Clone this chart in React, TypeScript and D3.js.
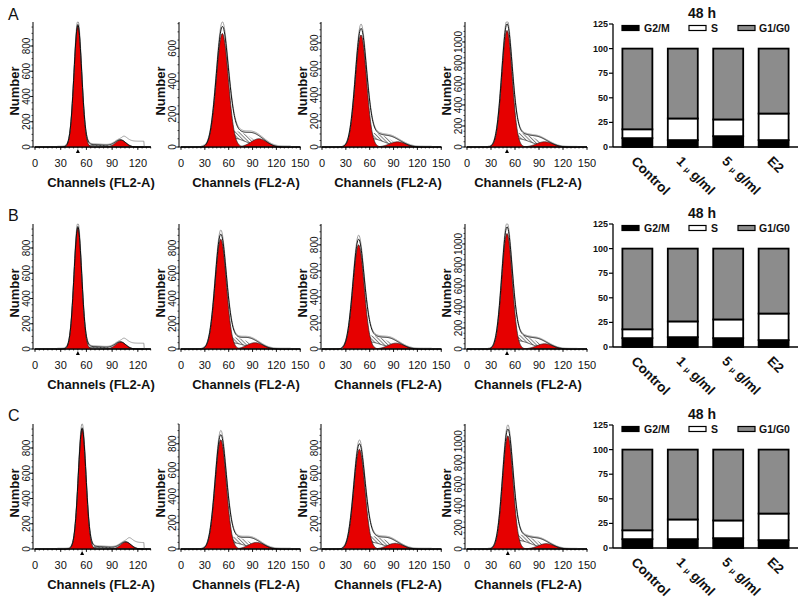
import React from "react";
import * as d3 from "d3";

// ---------- Panel labels ----------
const rowLabels = ["A", "B", "C"];

// ---------- Histogram data (row-major: A1..A4, B1..B4, C1..C4) ----------
const histXMax = [135, 150, 150, 150];
const histXTicks = [
  [0, 30, 60, 90, 120],
  [0, 30, 60, 90, 120, 150],
  [0, 30, 60, 90, 120, 150],
  [0, 30, 60, 90, 120, 150],
];
const histYMax = [990, 760, 960, 1190, 990, 990, 960, 1190, 990, 950, 990, 1160];
const g1Mean = [50, 52, 49, 50, 50, 50, 46, 50, 55, 50, 47, 51];
const g1Height = [960, 690, 860, 1110, 960, 870, 800, 1100, 950, 830, 790, 1050];
const g1Sd = [4.5, 7.5, 7, 6.5, 4.5, 7, 7, 6.5, 4.5, 7, 7, 6.5];
const g2Mean = [100, 98, 95, 97, 100, 93, 93, 97, 106, 95, 92, 99];
const g2Height = [55, 50, 40, 50, 55, 50, 45, 50, 55, 50, 45, 50];
const g2Sd = [6, 10, 10, 10, 6, 10, 10, 10, 6, 10, 10, 10];
const debrisHeight = [12, 55, 65, 80, 12, 50, 55, 80, 12, 50, 55, 80];
const sPhaseLevel = [8, 45, 45, 55, 8, 45, 50, 55, 8, 45, 50, 55];
const tailLevel = [40, 0, 0, 0, 40, 0, 0, 0, 45, 0, 0, 0];
const histYLabel = "Number";
const histXLabel = "Channels (FL2-A)";

// ---------- Bar chart data ----------
const barTitle = "48 h";
const categories = ["Control", "1 μ g/ml", "5 μ g/ml", "E2"];
const phaseKeys = ["G2/M", "S", "G1/G0"];
const g2mValues = [
  [9, 7, 11, 7],
  [9, 10, 9, 7],
  [9, 9, 10, 8],
];
const sValues = [
  [9, 22, 17, 27],
  [9, 16, 19, 27],
  [9, 20, 18, 27],
];
const g1Values = [
  [82, 71, 72, 66],
  [82, 74, 72, 66],
  [82, 71, 72, 65],
];
const barYTicks = [0, 25, 50, 75, 100, 125];

// ---------- Layout ----------
const FONT = "'Liberation Sans', Arial, Helvetica, sans-serif";
const rowZero = [147, 349, 549];
const barZero = [147, 347, 548];
const rowLabelY = [20, 221, 421];
const histAxisX = [33, 179, 321, 465];
const histX0 = [35, 181, 322, 467];
const histPx = [0.857, 0.795, 0.795, 0.8];
const channelLabelX = [101, 246, 388, 528];
const HIST_H = 125;
const RED = "#e60000";
const phaseColors = ["#000000", "#ffffff", "#8c8c8c"];

function erf(v: number) {
  const s = Math.sign(v);
  const a = Math.abs(v);
  const t = 1 / (1 + 0.3275911 * a);
  const yv =
    1 -
    ((((1.061405429 * t - 1.453152027) * t + 1.421413741) * t - 0.284496736) * t + 0.254829592) *
      t *
      Math.exp(-a * a);
  return s * yv;
}
const Phi = (z: number) => 0.5 * (1 + erf(z / Math.SQRT2));

function Histogram({ row, col }: { row: number; col: number }) {
  const i = row * 4 + col;
  const zero = rowZero[row];
  const ax = histAxisX[col];
  const x0 = histX0[col];
  const xMax = histXMax[col];
  const x = d3.scaleLinear().domain([0, xMax]).range([x0, x0 + xMax * histPx[col]]);
  const yMax = histYMax[i];
  const y = d3.scaleLinear().domain([0, yMax]).range([zero, zero - HIST_H]).clamp(true);

  const m1 = g1Mean[i], h1 = g1Height[i], s1 = g1Sd[i];
  const m2 = g2Mean[i], h2 = g2Height[i], s2 = g2Sd[i];
  const G1 = (c: number) => h1 * Math.exp(-0.5 * ((c - m1) / s1) ** 2);
  const G2 = (c: number) => h2 * Math.exp(-0.5 * ((c - m2) / s2) ** 2);
  const D = (c: number) =>
    debrisHeight[i] * Math.exp(-0.5 * ((c - (m1 + 12)) / 17) ** 2) * Phi((c - (m1 - 16)) / 3);
  const S = (c: number) =>
    sPhaseLevel[i] * Phi((c - (m1 + 1.2 * s1)) / 3) * (1 - Phi((c - (m2 - 4)) / (0.6 * s2)));
  const T = (c: number) => G1(c) + G2(c) + D(c) + S(c);
  const dataEnd = col === 0 ? 127 : 138;
  const R = (c: number) =>
    c > dataEnd
      ? 0
      : 1.03 * T(c) + 6 + tailLevel[i] * Phi((c - (m2 + 2)) / 2);
  const Rc = (c: number) => (c < 26 ? 0 : R(c));

  const chans = d3.range(0, xMax + 0.001, 0.5);
  const hatch = d3
    .area<number>()
    .x((c) => x(c))
    .y0((c) => y(D(c)))
    .y1((c) => y(D(c) + S(c)))(chans);
  const g1Path = d3
    .area<number>()
    .x((c) => x(c))
    .y0(zero)
    .y1((c) => y(G1(c)))(chans);
  const g2Path = d3
    .area<number>()
    .x((c) => x(c))
    .y0(zero)
    .y1((c) => y(G2(c)))(chans);
  const line = (f: (c: number) => number) =>
    d3
      .line<number>()
      .x((c) => x(c))
      .y((c) => y(f(c)))(chans);

  const yMajor = d3.range(0, yMax + 1, 200).filter((v) => v <= yMax);
  const yMinor = d3.range(0, yMax + 1, 50);
  const xMinor = d3.range(0, xMax + 0.01, 5);
  const showMarker = col === 0 || col === 3;

  return (
    <g>
      <path d={hatch || ""} fill="url(#hatch)" stroke="none" />
      <path d={line(D) || ""} fill="none" stroke="#111" strokeWidth={0.7} />
      <path d={g2Path || ""} fill={RED} stroke="#222" strokeWidth={0.7} />
      <path d={g1Path || ""} fill={RED} stroke="#222" strokeWidth={0.7} />
      <path d={line(Rc) || ""} fill="none" stroke="#888" strokeWidth={0.8} />
      <path d={line(T) || ""} fill="none" stroke="#000" strokeWidth={0.9} />
      {/* axes */}
      <line x1={ax} x2={ax} y1={zero} y2={zero - HIST_H} stroke="#000" strokeWidth={1} />
      <line x1={ax} x2={x(xMax)} y1={zero} y2={zero} stroke="#000" strokeWidth={1} />
      {yMinor.map((v) => (
        <line key={"ym" + v} x1={ax - 1.5} x2={ax} y1={y(v)} y2={y(v)} stroke="#000" strokeWidth={0.7} />
      ))}
      {yMajor.map((v) => (
        <g key={"yM" + v}>
          <line x1={ax - 3} x2={ax} y1={y(v)} y2={y(v)} stroke="#000" strokeWidth={0.8} />
          <text
            transform={`translate(${ax - 3},${y(v)}) rotate(-90)`}
            textAnchor="middle"
            fontSize={10}
            fill="#111"
          >
            {v}
          </text>
        </g>
      ))}
      {xMinor.map((v) => (
        <line key={"xm" + v} x1={x(v)} x2={x(v)} y1={zero} y2={zero + 1.5} stroke="#000" strokeWidth={0.7} />
      ))}
      {histXTicks[col].map((v) => (
        <g key={"xM" + v}>
          <line x1={x(v)} x2={x(v)} y1={zero} y2={zero + 3} stroke="#000" strokeWidth={0.8} />
          <text x={x(v)} y={zero + 20} textAnchor="middle" fontSize={11} fill="#111">
            {v}
          </text>
        </g>
      ))}
      {showMarker && (
        <path
          d={`M${x(m1) - 2},${zero + 6}L${x(m1) + 2},${zero + 6}L${x(m1)},${zero + 2}Z`}
          fill="#000"
        />
      )}
      <text
        transform={`translate(${ax - 14},${zero - 56}) rotate(-90)`}
        textAnchor="middle"
        fontSize={13}
        fontWeight="bold"
        fill="#111"
      >
        {histYLabel}
      </text>
      <text x={channelLabelX[col]} y={zero + 40} textAnchor="middle" fontSize={13} fontWeight="bold" fill="#111">
        {histXLabel}
      </text>
    </g>
  );
}

function BarChart({ row }: { row: number }) {
  const zero = barZero[row];
  const x = d3.scaleBand<string>().domain(categories).range([615, 796]).paddingInner(0.34).paddingOuter(0.163);
  const y = d3.scaleLinear().domain([0, 125]).range([zero, zero - 123]);
  const table = categories.map((c, k) => ({
    cat: c,
    "G2/M": g2mValues[row][k],
    S: sValues[row][k],
    "G1/G0": g1Values[row][k],
  }));
  const series = d3.stack<any>().keys(phaseKeys)(table);
  const axX = 613;
  const legendY = zero - 119;
  const legendX = [622, 689, 738];
  const legendTextX = [644, 711, 759];

  return (
    <g>
      <text x={702} y={zero - 129} textAnchor="middle" fontSize={14} fontWeight="bold" fill="#111">
        {barTitle}
      </text>
      {series.map((s, si) =>
        s.map((d: any, k: number) => (
          <rect
            key={si + "-" + k}
            x={x(categories[k])}
            width={x.bandwidth()}
            y={y(d[1])}
            height={y(d[0]) - y(d[1])}
            fill={phaseColors[si]}
            stroke="#000"
            strokeWidth={1.8}
          />
        ))
      )}
      {/* axes */}
      <line x1={axX} x2={axX} y1={zero} y2={y(125)} stroke="#000" strokeWidth={1.3} />
      <line x1={axX} x2={798} y1={zero} y2={zero} stroke="#000" strokeWidth={1.3} />
      {barYTicks.map((v) => (
        <g key={v}>
          <line x1={axX - 4} x2={axX} y1={y(v)} y2={y(v)} stroke="#000" strokeWidth={1.2} />
          <text x={axX - 5} y={y(v) + 3} textAnchor="end" fontSize={9} fontWeight="bold" fill="#111">
            {v}
          </text>
        </g>
      ))}
      {categories.map((c) => {
        const cx = (x(c) || 0) + x.bandwidth() / 2;
        const parts = c.split("μ");
        return (
          <text
            key={c}
            transform={`translate(${cx - 7},${zero + 15}) rotate(45)`}
            fontSize={13.5}
            fontWeight="bold"
            fill="#111"
          >
            {parts.length > 1 ? (
              <>
                {parts[0]}
                <tspan fontSize={8}>μ</tspan>
                {parts[1]}
              </>
            ) : (
              c
            )}
          </text>
        );
      })}
      {/* legend */}
      {phaseKeys.map((k, j) => (
        <g key={k}>
          <rect
            x={legendX[j]}
            y={legendY - 2.5}
            width={17}
            height={5}
            fill={phaseColors[j]}
            stroke="#000"
            strokeWidth={1.2}
          />
          <text x={legendTextX[j]} y={legendY + 3.5} fontSize={10.5} fontWeight="bold" fill="#111">
            {k}
          </text>
        </g>
      ))}
    </g>
  );
}

export default function App() {
  return (
    <svg
      width={800}
      height={601}
      style={{ position: "absolute", left: 0, top: 0, background: "#fff" }}
      fontFamily={FONT}
    >
      <defs>
        <pattern id="hatch" patternUnits="userSpaceOnUse" width={2.5} height={2.5} patternTransform="rotate(-45)">
          <rect width={2.5} height={2.5} fill="#fff" />
          <line x1={0.5} y1={0} x2={0.5} y2={2.5} stroke="#333" strokeWidth={0.6} />
        </pattern>
      </defs>
      <rect width={800} height={601} fill="#fff" />
      {rowLabels.map((r, ri) => (
        <g key={r}>
          <text x={8} y={rowLabelY[ri]} fontSize={16} fill="#111">
            {r}
          </text>
          {[0, 1, 2, 3].map((c) => (
            <Histogram key={c} row={ri} col={c} />
          ))}
          <BarChart row={ri} />
        </g>
      ))}
    </svg>
  );
}
